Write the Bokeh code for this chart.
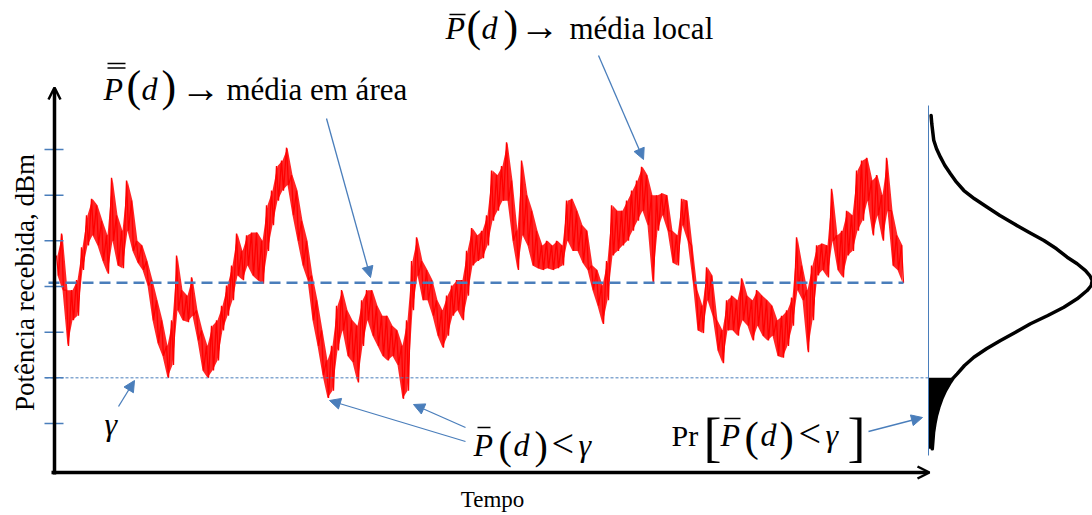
import numpy as np
from bokeh.plotting import figure
from bokeh.models import Range1d, Label, Arrow, NormalHead, OpenHead
from bokeh.embed import file_html
from bokeh.resources import INLINE

# ---------------- data (levels in dB relative to tick 0, time in samples) ----
T_START, T_STEP = 3, 5
SIG_HI = [3.4, 5.8, -0.4, -0.4, 0.7, 4.3, 7.8, 9.6, 8.9, 7.2,
          5.6, 11.9, 7.8, 6.1, 11.6, 9.4, 5.0, 4.5, 2.8, 0.7,
          -1.5, -3.7, -6.5, -3.7, 3.4, -0.4, -1.0, 1.0, -2.6, -4.8,
          -6.5, -4.3, -3.7, -2.1, 0.1, 2.3, 5.8, 3.9, 5.6, 5.9,
          5.9, 5.0, 8.9, 10.5, 13.2, 13.8, 15.2, 12.2, 10.5, 7.2,
          5.0, 1.2, -1.5, -4.8, -8.1, -6.5, -2.1, -0.4, -2.6, -3.7,
          -4.3, -1.5, -0.4, -0.4, -2.1, -3.2, -3.2, -4.3, -4.8, -6.5,
          -3.7, 2.8, 5.4, 2.8, 1.8, 0.7, -1.5, -2.6, -1.0, 0.1,
          0.7, 0.7, 3.9, 6.4, 5.6, 6.1, 7.8, 12.7, 12.2, 13.2,
          15.8, 11.6, 6.1, 13.8, 10.0, 8.3, 6.1, 4.5, 5.0, 4.5,
          5.0, 4.5, 9.4, 9.6, 8.3, 6.7, 6.1, 2.3, 1.8, 0.1,
          2.8, 8.9, 8.3, 8.3, 9.4, 10.5, 11.6, 13.1, 12.2, 10.0,
          10.0, 10.2, 10.0, 6.1, 5.6, 9.6, 9.4, 4.5, -0.4, -2.1,
          2.1, 1.2, -3.7, -4.8, -1.5, -1.0, -1.5, 0.9, -1.0, -1.5,
          -0.4, -1.0, -1.5, -2.1, -3.7, -3.2, -2.6, -1.2, 5.4, 2.3,
          -0.4, 2.3, 4.5, 4.7, 4.5, 10.7, 5.6, 6.1, 8.3, 7.8,
          12.7, 13.8, 14.1, 11.6, 12.2, 10.0, 14.1, 8.3, 5.6, 4.5]
SIG_LO = [1.2, -0.4, -6.5, -3.7, -3.2, 1.8, 4.5, 5.6, 4.5, 2.8,
          1.4, 5.0, 2.3, 2.0, 6.1, 3.9, 2.6, 1.8, 0.1, -3.7,
          -6.2, -7.6, -10.0, -8.6, -2.6, -3.7, -3.9, -3.2, -5.9, -9.2,
          -10.0, -9.2, -8.1, -4.8, -3.2, -1.5, 1.2, 0.7, 2.3, 1.2,
          0.7, 0.3, 3.9, 6.7, 9.4, 10.5, 11.1, 7.8, 5.0, 2.3,
          0.7, -3.7, -6.5, -9.7, -12.2, -11.4, -7.0, -4.8, -7.6, -8.3,
          -10.5, -6.5, -3.7, -5.4, -6.5, -7.6, -8.1, -7.6, -8.6, -12.3,
          -11.4, -2.6, 1.2, -1.5, -1.5, -3.2, -5.4, -6.7, -5.4, -3.2,
          -2.6, -3.7, -1.0, 2.3, 2.8, 3.1, 4.5, 7.2, 8.3, 9.4,
          9.4, 5.0, 1.8, 5.6, 4.5, 2.3, 2.0, 1.8, 2.0, 1.8,
          2.0, 2.3, 5.0, 3.9, 3.9, 2.6, 1.8, -0.4, -2.1, -4.1,
          -1.5, 3.4, 3.9, 4.5, 5.0, 6.1, 7.2, 8.3, 6.7, 0.3,
          6.1, 7.8, 6.1, 2.6, 2.3, 6.7, 5.0, 0.7, -4.8, -5.1,
          -1.5, -3.2, -7.0, -8.4, -4.8, -4.8, -5.4, -3.7, -4.3, -5.9,
          -4.3, -5.4, -5.9, -5.4, -7.6, -7.8, -6.5, -4.3, -0.4, -1.5,
          -7.2, -3.7, 1.2, 1.8, 1.0, 5.0, 1.8, 1.0, 3.4, 3.9,
          6.1, 7.2, 9.4, 5.6, 7.8, 5.0, 8.3, 2.3, 1.8, 0.4]
AREA_MEAN_DB = 0.4
GAMMA_DB = -10.0
TICKS_DB = [-15, -10, -5, 0, 5, 10, 15]
PDF_LEVEL_DB = [18.72, 17.81, 16.01, 15.08, 14.16, 13.25, 12.34, 11.42, 10.51,
                9.60, 8.68, 7.77, 6.86, 5.94, 5.04, 4.13, 3.21, 2.49, 1.75,
                1.20, 0.66, 0.11, -0.44, -1.35, -2.27, -3.17, -4.08, -5.00,
                -5.91, -6.82, -7.74, -8.65, -9.56, -10.0, -10.48, -11.39,
                -12.30, -13.21, -14.12, -15.03, -15.95, -16.86, -17.77]
PDF_DENSITY = [0.016, 0.020, 0.032, 0.049, 0.073, 0.100, 0.134, 0.171, 0.216,
               0.281, 0.359, 0.436, 0.522, 0.613, 0.705, 0.782, 0.847, 0.908,
               0.959, 0.985, 1.000, 0.994, 0.969, 0.908, 0.827, 0.729, 0.623,
               0.532, 0.440, 0.354, 0.277, 0.220, 0.175, 0.152, 0.134, 0.104,
               0.081, 0.063, 0.049, 0.039, 0.031, 0.027, 0.023]

BLUE = "#4A7EBB"
RED = "#FF0000"
FONT = "Liberation Serif"

p = figure(width=1092, height=515, output_backend="svg", toolbar_location=None,
           x_range=Range1d(-54, 1038), y_range=Range1d(-25.071, 31.312),
           x_axis_location=None, y_axis_location=None, min_border=0)
p.outline_line_color = None
p.background_fill_color = "white"
p.grid.visible = False
p.extra_x_ranges = {"pdf": Range1d(-5.669, 1.0018)}


def tx(px):
    return px - 54


def ty(py):
    return (286 - py) / 9.134


# ---------------- signal ----------------
n = len(SIG_HI)
t = T_START + T_STEP * np.arange(n)
p.varea(x=t, y1=SIG_LO, y2=SIG_HI, fill_color=RED, fill_alpha=0.85)
xs = np.column_stack([t - 1.0, t + 1.0]).ravel()
ys = np.column_stack([SIG_HI, SIG_LO]).ravel()
p.line(xs, ys, color=RED, line_width=1.3)

# reference levels
p.line([tx(48), t[-1] + 1], [AREA_MEAN_DB, AREA_MEAN_DB], color=BLUE,
       line_width=2.5, line_dash="11 6")
p.line([tx(45), tx(928)], [GAMMA_DB, GAMMA_DB], color=BLUE, line_width=1,
       line_dash="3 2")

# ticks
p.segment(x0=[-10] * len(TICKS_DB), x1=[9] * len(TICKS_DB), y0=TICKS_DB,
          y1=TICKS_DB, color=BLUE, line_width=1.5)

# axes with arrows
p.add_layout(Arrow(x_start=0, y_start=ty(474), x_end=0, y_end=ty(87),
                   line_width=3.5, line_color="black",
                   end=OpenHead(size=12, line_width=2.5, line_color="black")))
p.add_layout(Arrow(x_start=tx(51), y_start=ty(472), x_end=tx(929), y_end=ty(472),
                   line_width=3.5, line_color="black",
                   end=OpenHead(size=12, line_width=2.5, line_color="black")))

# ---------------- pdf ----------------
lev = np.array(PDF_LEVEL_DB)
den = np.array(PDF_DENSITY)
mask = lev <= GAMMA_DB
p.harea(x1=np.zeros(mask.sum()), x2=den[mask], y=lev[mask], x_range_name="pdf",
        fill_color="black")
p.line(den, lev, x_range_name="pdf", color="black", line_width=3.5,
       line_join="round", line_cap="round")
p.line([0, 0], [ty(105), ty(455)], x_range_name="pdf", color=BLUE, line_width=1)


# ---------------- text ----------------
def lab(px, py, text, size=31, style="normal", align="left", angle=0.0,
        font=FONT):
    # py is the alphabetic baseline; anchor on the middle of the em box
    p.add_layout(Label(x=tx(px), y=ty(py - 0.34 * size), text=text,
                       text_font=font, text_font_size=f"{size}px",
                       text_font_style=style, text_align=align,
                       text_baseline="middle", angle=angle, text_color="black"))


def overline(px0, px1, py):
    p.segment(x0=[tx(px0)], x1=[tx(px1)], y0=[ty(py)], y1=[ty(py)],
              color="black", line_width=1.5)


p.add_layout(Label(x=tx(24), y=ty(282), text="Potência recebida, dBm",
                   text_font=FONT, text_font_size="27px", text_align="center",
                   text_baseline="middle", angle=np.pi / 2, text_color="black"))
lab(492, 507, "Tempo", 23, align="center")

# P(d) -> média local
lab(445, 38.5, "P", 32, "italic")
overline(449, 465, 14)
lab(466, 41, "(", 44)
lab(481, 38.5, "d", 32, "italic")
lab(503, 41, ")", 44)
lab(519, 40, "→", 40)
lab(569, 38.5, "média local", 31)

# P(d) -> média em área
lab(103, 99.5, "P", 32, "italic")
overline(107, 125, 63)
overline(107, 125, 67.5)
lab(126, 101, "(", 44)
lab(141, 99.5, "d", 32, "italic")
lab(161, 101, ")", 44)
lab(180, 102, "→", 40)
lab(226, 99.5, "média em área", 31)

# gamma
lab(104, 434, "γ", 32, "italic")

# P(d) < gamma
lab(473, 455, "P", 32, "italic")
overline(477, 490, 427)
lab(498, 459, "(", 40)
lab(513, 455, "d", 32, "italic")
lab(534, 459, ")", 40)
lab(551, 457, "<", 40)
lab(578, 455, "γ", 32, "italic")

# Pr[P(d) < gamma]
lab(671, 445, "Pr", 30)
lab(703, 456, "[", 54)
lab(720, 445, "P", 32, "italic")
overline(724, 740, 418)
lab(744, 451, "(", 43)
lab(760, 445, "d", 32, "italic")
lab(779, 451, ")", 43)
lab(798, 447, "<", 40)
lab(825, 445, "γ", 32, "italic")
lab(847, 456, "]", 54)

# annotation arrows
for (x0, y0, x1, y1) in [(326, 118, 370, 277), (598, 55, 643, 159),
                         (118, 406, 134, 380), (465, 441, 329, 400),
                         (465, 427, 413, 404), (868, 431, 922, 417)]:
    p.add_layout(Arrow(x_start=tx(x0), y_start=ty(y0), x_end=tx(x1), y_end=ty(y1),
                       line_color=BLUE, line_width=1.3,
                       end=NormalHead(size=11, fill_color=BLUE, line_color=BLUE,
                                      line_width=1)))

open("out.html", "w").write(file_html(p, INLINE))
